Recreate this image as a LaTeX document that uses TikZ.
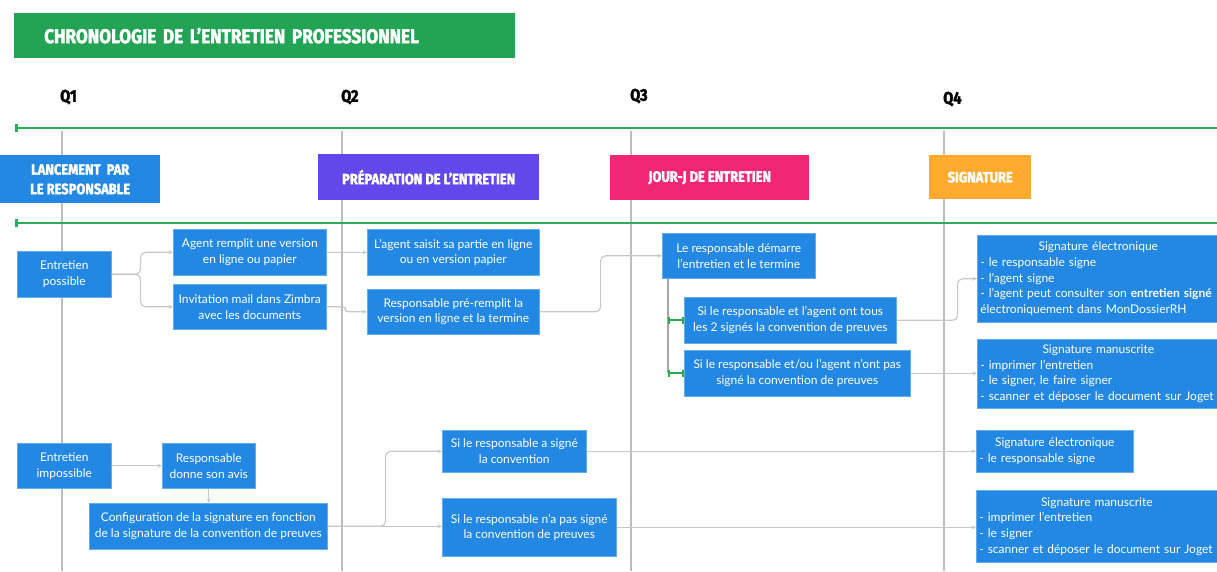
\documentclass[tikz,border=0pt]{standalone}
\usepackage{fontspec}
\setmainfont{Lato}
\newfontfamily\headfont{Fira Sans}[FakeStretch=0.86,FakeBold=2]
\usetikzlibrary{arrows.meta}
\definecolor{titlegreen}{HTML}{23A455}
\definecolor{linegreen}{HTML}{2EAA5B}
\definecolor{boxblue}{HTML}{2388E3}
\definecolor{hpurple}{HTML}{6248EA}
\definecolor{hpink}{HTML}{F12776}
\definecolor{horange}{HTML}{FFAB2E}
\definecolor{conngray}{HTML}{C3C9D0}
\definecolor{vgray}{HTML}{BDBDBD}
\definecolor{trunkgray}{HTML}{A5A5A5}
\definecolor{brgreen}{HTML}{2BAA4F}
\tikzset{
  sz/.style 2 args={minimum width=#1pt, minimum height=#2pt},
  box/.style={fill=boxblue, draw=boxblue!70!white, line width=0.6pt, text=white,
    font=\fontsize{12}{15.7}\selectfont, align=center, inner sep=0pt, anchor=north west},
  sigbox/.style={box, align=left, text width=#1},
  hbox/.style={text=white, font=\headfont\bfseries\fontsize{15}{19.5}\selectfont,
    align=center, inner sep=0pt, anchor=north west},
  qlabel/.style={text=black, font=\headfont\bfseries\fontsize{17}{19}\selectfont,
    inner sep=0pt, anchor=west},
  conn/.style={draw=conngray, line width=1.2pt, rounded corners=5pt,
    -{Stealth[length=4.5pt,width=4pt]}},
  vline/.style={draw=vgray, line width=2.6pt},
  tline/.style={draw=linegreen, line width=2.6pt, {Bar[width=8pt]}-},
  trunk/.style={draw=trunkgray, line width=2pt},
  bracket/.style={draw=brgreen, line width=2pt, {Bar[width=7pt]}-{Bar[width=7pt]}},
}
\begin{document}
\begin{tikzpicture}[x=1pt,y=-1pt]
\useasboundingbox (0,0) rectangle (1217,571);
% vertical quarter lines
\draw[vline] (62,131) -- (62,571);
\draw[vline] (342,131) -- (342,571);
\draw[vline] (631,131) -- (631,571);
\draw[vline] (944,131) -- (944,571);
% timelines
\draw[tline] (15,128) -- (1217,128);
\draw[tline] (15,223) -- (1217,223);
% title
\node[fill=titlegreen, sz={501}{45}, anchor=north west, inner sep=0pt, text width=441pt,
  align=left, text=white, font=\headfont\bfseries\fontsize{20}{24}\selectfont]
  (title) at (14,13) {CHRONOLOGIE DE L’ENTRETIEN PROFESSIONNEL};
% quarters
\node[qlabel] (q1) at (60,97) {Q1};
\node[qlabel] (q2) at (341,97) {Q2};
\node[qlabel] (q3) at (630,96) {Q3};
\node[qlabel] (q4) at (943,99) {Q4};
% headers
\node[hbox, fill=boxblue, sz={160}{48}] (h1) at (0,155) {LANCEMENT~~PAR\\LE RESPONSABLE};
\node[hbox, fill=hpurple, sz={221}{46}] (h2) at (318,154) {PRÉPARATION DE L’ENTRETIEN};
\node[hbox, fill=hpink, sz={199}{45}] (h3) at (610,155) {JOUR-J DE ENTRETIEN};
\node[hbox, fill=horange, sz={102}{44}] (h4) at (929,155) {SIGNATURE};
% upper flow
\node[box, sz={94}{46}] (possible) at (17,251) {Entretien\\possible};
\node[box, sz={153}{46}] (agent) at (173,229) {Agent remplit une version\\en ligne ou papier};
\node[box, sz={153}{45}] (invit) at (173,284) {Invitation mail dans Zimbra\\avec les documents};
\node[box, sz={172}{46}] (saisit) at (367,229) {L’agent saisit sa partie en ligne\\ou en version papier};
\node[box, sz={172}{45}] (prerempl) at (367,289) {Responsable pré-remplit la\\version en ligne et la termine};
\node[box, sz={153}{45}] (demarre) at (662,233) {Le responsable démarre\\l’entretien et le termine};
\node[box, sz={212}{46}] (si1) at (684,297) {Si le responsable et l’agent ont tous\\les 2 signés la convention de preuves};
\node[box, sz={226}{46}] (si2) at (684,350) {Si le responsable et/ou l’agent n’ont pas\\signé la convention de preuves};
\node[sigbox=236pt, sz={242}{87}] (sigel1) at (977,235)
  {\makebox[236pt][c]{Signature électronique}\\- le responsable signe\\- l’agent signe\\- l’agent peut consulter son \textbf{entretien signé}\\électroniquement dans MonDossierRH};
\node[sigbox=236pt, sz={242}{69}] (sigma1) at (977,339)
  {\makebox[236pt][c]{Signature manuscrite}\\- imprimer l’entretien\\- le signer, le faire signer\\- scanner et déposer le document sur Joget};
% lower flow
\node[box, sz={94}{45}] (impossible) at (17,443) {Entretien\\impossible};
\node[box, sz={93}{45}] (avis) at (162,443) {Responsable\\donne son avis};
\node[box, sz={238}{46}] (config) at (89,503) {Configuration de la signature en fonction\\de la signature de la convention de preuves};
\node[box, sz={144}{42}] (sia) at (442,430) {Si le responsable a signé\\la convention};
\node[box, sz={174}{58}] (sinon) at (442,498) {Si le responsable n’a pas signé\\la convention de preuves};
\node[sigbox=151pt, sz={157}{42}] (sigel2) at (976,430)
  {\makebox[151pt][c]{Signature électronique}\\- le responsable signe};
\node[sigbox=235pt, sz={241}{72}] (sigma2) at (976,490)
  {\makebox[235pt][c]{Signature manuscrite}\\- imprimer l’entretien\\- le signer\\- scanner et déposer le document sur Joget};
% connectors upper
\draw[conn] (possible.east) -- ++(29,0) |- (agent.west);
\draw[conn] (possible.east) -- ++(29,0) |- (invit.west);
\draw[conn] (agent.east) -- (saisit.west);
\draw[conn, rounded corners=3pt] (invit.east) -- ++(19,0) |- (prerempl.west);
\draw[conn] (prerempl.east) -- ++(61,0) |- (demarre.west);
\coordinate (trunktop) at ([xshift=6pt]demarre.south west);
\draw[trunk] (trunktop) -- (trunktop |- si2.west);
\draw[bracket] (trunktop |- si1.west) -- (si1.west);
\draw[bracket] (trunktop |- si2.west) -- (si2.west);
\draw[conn] (si1.east) -- ++(61,0) |- (sigel1.west);
\draw[conn] (si2.east) -- (si2.east -| sigma1.west);
% connectors lower
\draw[conn] (impossible.east) -- (avis.west);
\draw[conn] (avis.south) -- (avis.south |- config.north);
\draw[conn] (config.east) -- ++(58,0) |- (sia.west);
\draw[conn] (config.east) -- (config.east -| sinon.west);
\draw[conn] (sia.east) -- (sia.east -| sigel2.west);
\draw[conn] (sinon.east) -- (sinon.east -| sigma2.west);
\end{tikzpicture}
\end{document}
